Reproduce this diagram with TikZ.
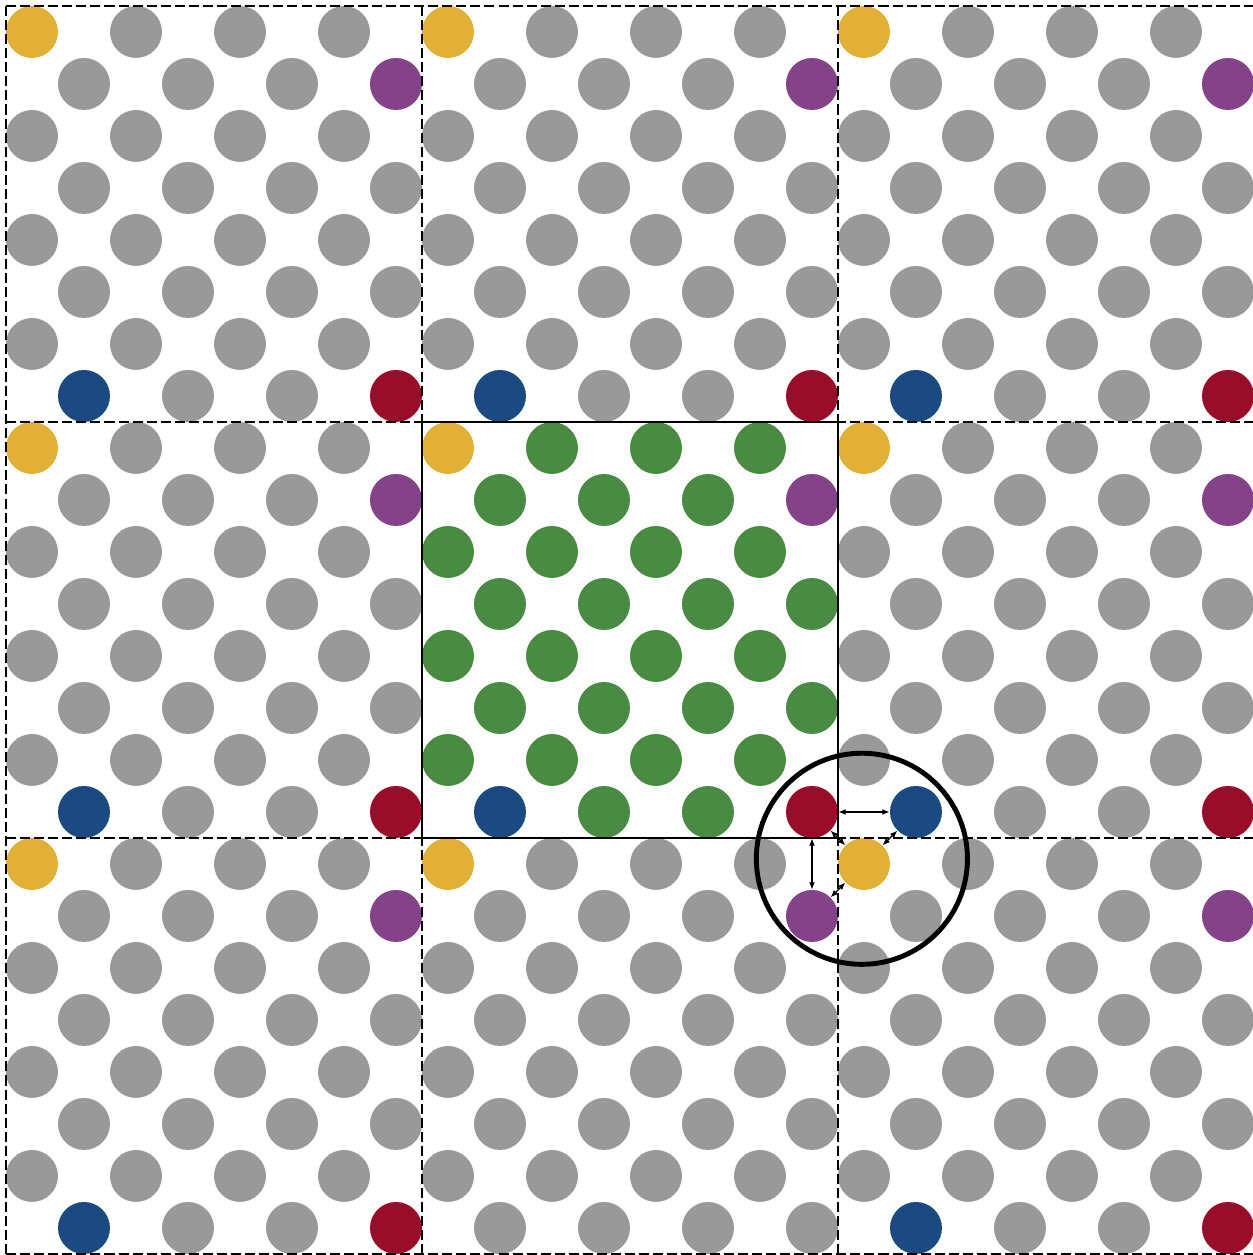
\documentclass[tikz,border=0pt]{standalone}
\usetikzlibrary{arrows.meta}

\definecolor{siteyellow}{RGB}{225,175,54}
\definecolor{sitepurple}{RGB}{132,66,136}
\definecolor{siteblue}{RGB}{27,74,130}
\definecolor{sitered}{RGB}{154,13,42}
\definecolor{sitegreen}{RGB}{74,139,67}
\definecolor{sitegray}{RGB}{153,153,153}

\begin{document}
\begin{tikzpicture}[x=1cm,y=-1cm,line join=round,
    site/.style={circle,inner sep=0pt,minimum size=1cm},
    cellline/.style={line width=0.7pt,dash pattern=on 5.5pt off 2.2pt},
    bond/.style={{Latex[length=4pt,width=3.2pt]}-{Latex[length=4pt,width=3.2pt]},line width=0.65pt}]
        \useasboundingbox (-0.115,-0.115) rectangle (23.98,24.02);

        % Átomos de las nueve celdas (la central en verde)
        \foreach \ci in {0,1,2}
        \foreach \cj in {0,1,2}
        \foreach \row in {0,...,7}
        \foreach \k in {0,...,3}{
            \pgfmathtruncatemacro{\col}{2*\k+mod(\row,2)}
            \def\sitecol{sitegray}
            \ifnum\ci=1 \ifnum\cj=1 \def\sitecol{sitegreen}\fi\fi
            \ifnum\row=0 \ifnum\col=0 \def\sitecol{siteyellow}\fi\fi
            \ifnum\row=1 \ifnum\col=7 \def\sitecol{sitepurple}\fi\fi
            \ifnum\row=7 \ifnum\col=1 \def\sitecol{siteblue}\fi\fi
            \ifnum\row=7 \ifnum\col=7 \def\sitecol{sitered}\fi\fi
            % celda inferior central: última fila en gris
            \ifnum\ci=1 \ifnum\cj=2 \ifnum\row=7 \def\sitecol{sitegray}\fi\fi\fi
            \node[site,fill=\sitecol] (s-\ci-\cj-\row-\col)
                at ({8*\ci+\col+0.5},{8*\cj+\row+0.5}) {};
        }

        %----------------------------------------------------------
        % Bordes de las celdas periódicas
        \foreach \t in {0,8,16,24}{
            \draw[cellline] (\t,0) -- (\t,24);
            \draw[cellline] (0,\t) -- (24,\t);
        }
        \draw[line width=0.7pt] (8,8) rectangle (16,16);

        % Vecinos a través de la frontera
        \draw[bond] (s-1-1-7-7) -- (s-2-1-7-1);
        \draw[bond] (s-1-1-7-7) -- (s-1-2-1-7);
        \draw[bond] (s-1-1-7-7) -- (s-2-2-0-0);
        \draw[bond] (s-2-1-7-1) -- (s-2-2-0-0);
        \draw[bond] (s-1-2-1-7) -- (s-2-2-0-0);

        % Radio de corte
        \node[draw,circle,inner sep=0pt,minimum size=4.06cm,line width=2.7pt]
            (cutoff) at (16.46,16.40) {};
    \end{tikzpicture}
\end{document}
